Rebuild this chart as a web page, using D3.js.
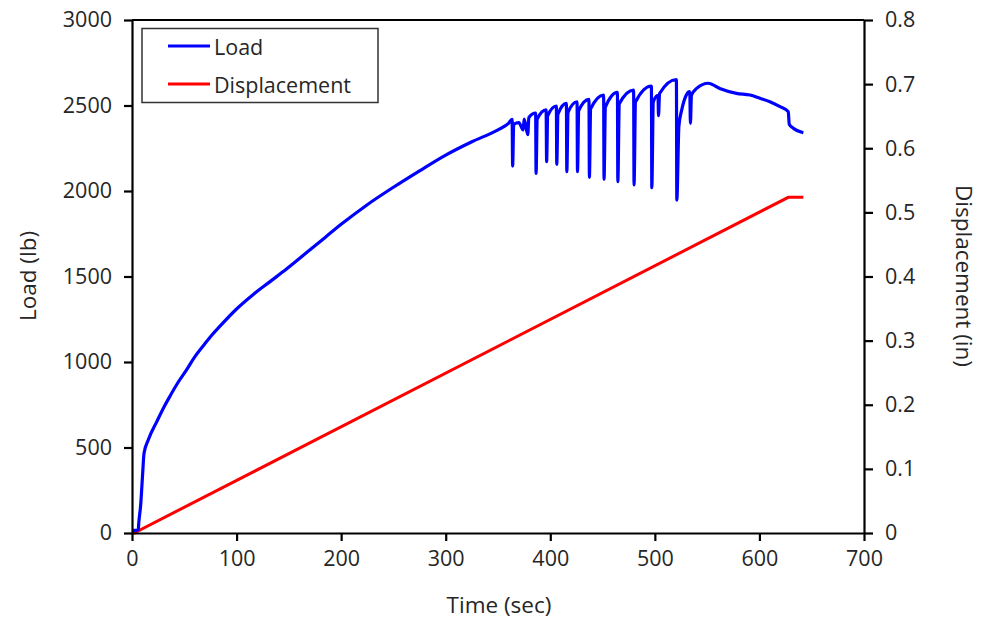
<!DOCTYPE html>
<html>
<head>
<meta charset="utf-8">
<script src="https://cdn.jsdelivr.net/npm/d3@7"></script>
<style>
  body { margin: 0; background: #fff; }
  text { font-family: "Open Sans", "DejaVu Sans", sans-serif; fill: #262626; }
</style>
</head>
<body>
<svg width="985" height="621"></svg>
<script>
// load trace: time (sec) and load (lb)
var loadTime = [0, 3, 6, 6.5, 8.3, 10.2, 11.5, 15.6, 23.6, 30, 36.3, 44, 52.3, 60, 68.2, 76, 84.2, 100, 116, 132, 148, 167, 185, 200,
  225, 250, 275, 300, 325, 350, 360, 363.5,
  364, 365, 370, 374, 375, 378.5, 379.5, 386, 386.4, 387.5, 396, 396.5, 397.5, 405.8, 406.2, 407.3,
  415.4, 415.8, 417, 425.6, 426, 427.2, 437, 437.4, 438.6, 451, 451.4, 452.7, 464.2, 464.6, 466,
  479.7, 480.1, 481.5, 496.7, 497.1, 498.5, 503, 503.5, 504.5, 520.6, 521, 523, 525.7, 530, 533.4, 534, 535,
  540, 551, 562, 578, 591, 600.5, 610, 619.7, 627.6, 628.5, 632.4, 642];
var loadLbs = [15, 15, 20, 60, 164, 349, 466, 545, 650, 730, 800, 880, 955, 1030, 1095, 1155, 1210, 1310, 1395, 1470, 1545, 1640, 1730, 1805,
  1920, 2022, 2118, 2210, 2288, 2358, 2395, 2419,
  2146, 2390, 2400, 2357, 2420, 2330, 2430, 2456, 2103, 2420, 2474, 2171, 2440, 2497, 2156, 2450,
  2513, 2113, 2460, 2522, 2113, 2470, 2536, 2080, 2480, 2561, 2068, 2490, 2577, 2054, 2510,
  2590, 2035, 2520, 2614, 2019, 2520, 2560, 2440, 2570, 2652, 1947, 2380, 2474, 2560, 2581, 2396, 2560,
  2600, 2630, 2600, 2571, 2561, 2542, 2522, 2493, 2464, 2390, 2367, 2341];

// displacement trace: time (sec) and displacement (in)
var dispTime = [0, 2, 627.6, 642];
var dispIn = [0, 0, 0.5235, 0.5235];

var timeTicks = [0, 100, 200, 300, 400, 500, 600, 700];
var loadTicks = [0, 500, 1000, 1500, 2000, 2500, 3000];
var dispTicks = [0, 0.1, 0.2, 0.3, 0.4, 0.5, 0.6, 0.7, 0.8];

var svg = d3.select("svg");

var x = d3.scaleLinear().domain([0, 700]).range([132, 864]);
var yL = d3.scaleLinear().domain([0, 3000]).range([533, 20]);
var yR = d3.scaleLinear().domain([0, 0.8]).range([533, 20]);

var loadData = loadTime.map((t, i) => [t, loadLbs[i]]);
var dispData = dispTime.map((t, i) => [t, dispIn[i]]);

// lines
svg.append("path")
    .datum(dispData)
    .attr("fill", "none")
    .attr("stroke", "#ff0000")
    .attr("stroke-width", 3)
    .attr("d", d3.line().x(d => x(d[0])).y(d => yR(d[1])));

svg.append("path")
    .datum(loadData)
    .attr("fill", "none")
    .attr("stroke", "#0000ff")
    .attr("stroke-width", 3.2)
    .attr("stroke-linejoin", "round")
    .attr("d", d3.line().curve(d3.curveMonotoneX).x(d => x(d[0])).y(d => yL(d[1])));

// axes
var fs = "21.5px";

var gx = svg.append("g")
    .attr("transform", "translate(0,533)")
    .call(d3.axisBottom(x).tickValues(timeTicks).tickSize(8).tickSizeOuter(0).tickPadding(10).tickFormat(d3.format("d")));

var gl = svg.append("g")
    .attr("transform", "translate(132,0)")
    .call(d3.axisLeft(yL).tickValues(loadTicks).tickSize(8).tickSizeOuter(0).tickPadding(12).tickFormat(d3.format("d")));

var gr = svg.append("g")
    .attr("transform", "translate(864,0)")
    .call(d3.axisRight(yR).tickValues(dispTicks).tickSize(9).tickSizeOuter(0).tickPadding(12).tickFormat(d => d === 0 ? "0" : d3.format(".1f")(d)));

[gx, gl, gr].forEach(g => {
  g.selectAll("path, line").attr("stroke", "#000").attr("stroke-width", 2.2);
  g.selectAll("text").style("font-size", fs).attr("fill", "#262626");
});

// top border of the plot area
svg.append("line")
    .attr("x1", x(0)).attr("x2", x(700))
    .attr("y1", yL(3000)).attr("y2", yL(3000))
    .attr("stroke", "#000").attr("stroke-width", 2.2);

// axis titles
svg.append("text")
    .attr("x", (x(0) + x(700)) / 2 + 1).attr("y", 604)
    .attr("text-anchor", "middle").attr("dominant-baseline", "central")
    .style("font-size", "22.5px")
    .text("Time (sec)");

svg.append("text")
    .attr("transform", "translate(27,276) rotate(-90)")
    .attr("text-anchor", "middle").attr("dominant-baseline", "central")
    .style("font-size", "22.5px")
    .text("Load (lb)");

svg.append("text")
    .attr("transform", "translate(964,276) rotate(90)")
    .attr("text-anchor", "middle").attr("dominant-baseline", "central")
    .style("font-size", "22.5px")
    .text("Displacement (in)");

// legend
var legend = svg.append("g");
legend.append("rect")
    .attr("x", 142).attr("y", 28.5).attr("width", 236).attr("height", 74)
    .attr("fill", "#fff").attr("stroke", "#333").attr("stroke-width", 1.5);

var legendItems = [
  { name: "Load", color: "#0000ff", y: 46 },
  { name: "Displacement", color: "#ff0000", y: 84 }
];

legendItems.forEach(item => {
  legend.append("line")
      .attr("x1", 168).attr("x2", 210)
      .attr("y1", item.y).attr("y2", item.y)
      .attr("stroke", item.color).attr("stroke-width", 3);
  legend.append("text")
      .attr("x", 214).attr("y", item.y)
      .attr("dominant-baseline", "central")
      .style("font-size", fs)
      .text(item.name);
});
</script>
</body>
</html>
